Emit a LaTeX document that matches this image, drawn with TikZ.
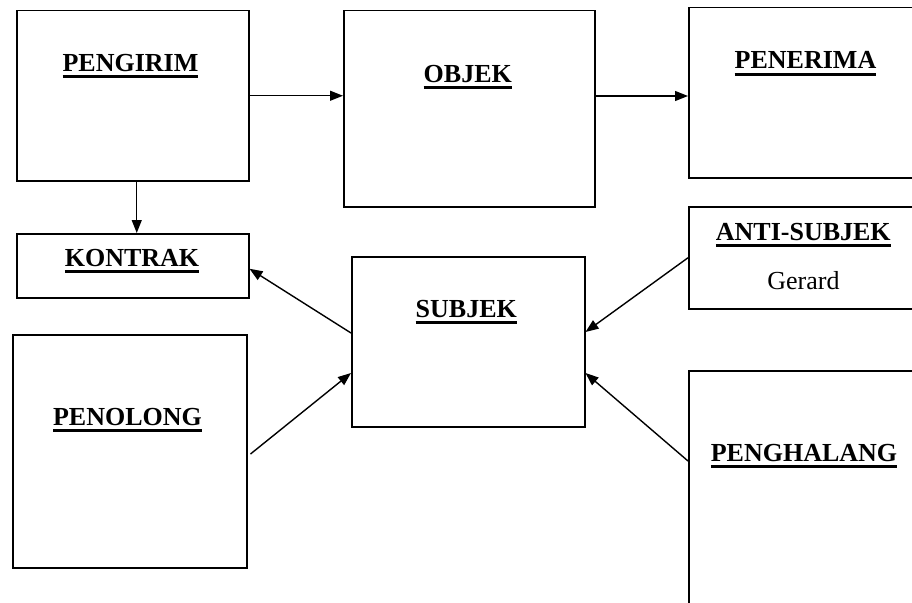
\documentclass[tikz,border=0pt]{standalone}
\usepackage{fontspec}
\setmainfont{Liberation Serif}
\usetikzlibrary{arrows.meta,calc,positioning}
\newsavebox{\ulbox}
\newcommand{\ulword}[1]{\sbox{\ulbox}{#1}\rlap{\rule[-6.5pt]{\wd\ulbox}{2.8pt}}\usebox{\ulbox}}
\tikzset{
    boxsty/.style={draw,rectangle,line width=1.5pt,inner sep=0pt,anchor=north west},
    lblsty/.style={inner sep=0pt,anchor=base,font=\fontsize{26}{30}\selectfont\bfseries},
    namesty/.style={inner sep=0pt,anchor=base,font=\fontsize{26}{30}\selectfont},
    arrsty/.style={->,line width=1.4pt},
}

\begin{document}
\begin{tikzpicture}[x=1pt,y=-1pt,>={Triangle[length=13pt,width=10pt]}]
\useasboundingbox (0,0) rectangle (912,602);
\clip (0,0) rectangle (912,602);

% boxes
\node[boxsty,minimum width=232pt,minimum height=170pt] (pengirim) at (16,10) {};
\node[boxsty,minimum width=251pt,minimum height=196pt] (objek) at (343,10) {};
\node[boxsty,minimum width=232pt,minimum height=170pt] (penerima) at (688,7) {};
\node[boxsty,minimum width=232pt,minimum height=64pt] (kontrak) at (16,233) {};
\node[boxsty,minimum width=233pt,minimum height=170pt] (subjek) at (351,256) {};
\node[boxsty,minimum width=232pt,minimum height=102pt] (antisubjek) at (688,206) {};
\node[boxsty,minimum width=234pt,minimum height=233pt] (penolong) at (12,334) {};
\node[boxsty,minimum width=232pt,minimum height=260pt] (penghalang) at (688,370) {};

% labels
\node[lblsty] (pengirimlbl) at (130.5,71.7) {\ulword{PENGIRIM}};
\node[lblsty] (objeklbl) at (467.8,82.7) {\ulword{OBJEK}};
\node[lblsty] (penerimalbl) at (805.5,69) {\ulword{PENERIMA}};
\node[lblsty] (kontraklbl) at (132,266.7) {\ulword{KONTRAK}};
\node[lblsty] (subjeklbl) at (466.3,317) {\ulword{SUBJEK}};
\node[lblsty] (antisubjeklbl) at (803.3,240) {\ulword{ANTI-SUBJEK}};
\node[namesty] (gerardlbl) at (803.5,289.3) {Gerard};
\node[lblsty] (penolonglbl) at (127.5,425) {\ulword{PENOLONG}};
\node[lblsty] (penghalanglbl) at (804,461.7) {\ulword{PENGHALANG}};

% connectors
\draw[arrsty] (pengirim.east) -- (pengirim.east -| objek.west);
\draw[arrsty] ($(objek.north east)+(0,86)$) -- ($(penerima.north west)+(0,89)$);
\draw[arrsty] ($(pengirim.south)+(4,0)$) -- ($(kontrak.north)+(4,0)$);
\draw[arrsty] ($(subjek.north west)+(0,77)$) -- ($(kontrak.east)+(0,3)$);
\draw[arrsty] ($(penolong.north east)+(3,120)$) -- ($(subjek.north west)+(0,117)$);
\draw[arrsty] (antisubjek.west) -- ($(subjek.north east)+(0,76)$);
\draw[arrsty] ($(penghalang.north west)+(0,91)$) -- ($(subjek.north east)+(0,117)$);
\end{tikzpicture}
\end{document}
